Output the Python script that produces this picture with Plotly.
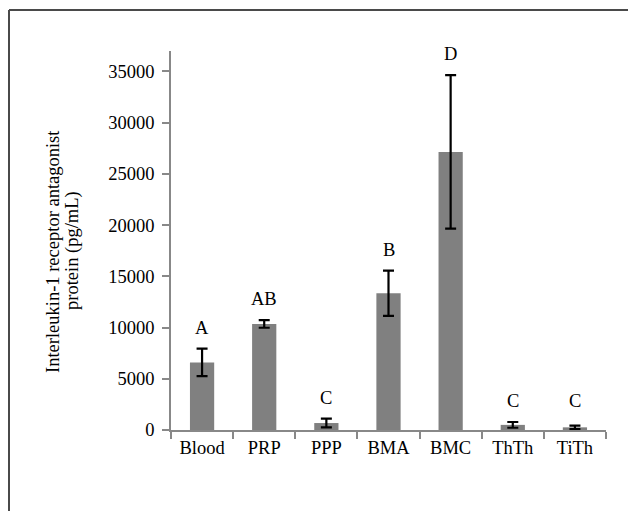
import plotly.graph_objects as go

categories = ["Blood", "PRP", "PPP", "BMA", "BMC", "ThTh", "TiTh"]
means = [6600, 10350, 680, 13350, 27150, 500, 260]
errors = [1350, 370, 430, 2200, 7500, 280, 170]
letters = ["A", "AB", "C", "B", "D", "C", "C"]
y_ticks = [0, 5000, 10000, 15000, 20000, 25000, 30000, 35000]

OFF = 8  # page body margin
W, H = 636 - OFF, 511 - OFF
L, R, T, B = 171 - OFF, 30, 51 - OFF, 81
pw, ph = W - L - R, H - T - B

def px(x):
    return (x - OFF - L) / pw

def py(y):
    return (H - B - (y - OFF)) / ph

font = dict(family="Liberation Serif, Times New Roman, serif", size=18.5, color="#000")

fig = go.Figure()
fig.add_trace(go.Bar(
    x=categories, y=means, width=0.39,
    marker=dict(color="#808080", line=dict(width=0)),
    error_y=dict(type="data", array=errors, visible=True, color="#000", thickness=2.2, width=5.5),
))

letter_y = [max(m + e, 750) for m, e in zip(means, errors)]
for c, ly, t in zip(categories, letter_y, letters):
    fig.add_annotation(x=c, y=ly, text=t, showarrow=False, yanchor="middle", yshift=21, font=font)

fig.add_annotation(
    xref="paper", yref="paper", x=px(53), y=py(251),
    text="Interleukin-1 receptor antagonist",
    textangle=-90, showarrow=False, xanchor="center", yanchor="middle", font=font,
)
fig.add_annotation(
    xref="paper", yref="paper", x=px(72), y=py(251),
    text="protein (pg/mL)",
    textangle=-90, showarrow=False, xanchor="center", yanchor="middle", font=font,
)

# frame lines (top and left)
fig.add_shape(type="line", xref="paper", yref="paper", x0=px(9), x1=px(640), y0=py(10), y1=py(10),
              line=dict(color="#4a4a4a", width=2))
fig.add_shape(type="line", xref="paper", yref="paper", x0=px(9), x1=px(9), y0=py(10), y1=py(515),
              line=dict(color="#4a4a4a", width=2))

fig.update_layout(
    width=W, height=H,
    margin=dict(l=L, r=R, t=T, b=B, pad=0),
    paper_bgcolor="white", plot_bgcolor="white",
    showlegend=False, font=font, bargap=0.6,
)
fig.update_xaxes(
    showline=True, linecolor="#888", linewidth=1.5,
    ticks="outside", tickson="boundaries", ticklen=7, tickcolor="#888", tickwidth=1.5,
    showgrid=False, tickfont=font,
)
fig.update_yaxes(
    range=[0, 37000], tickvals=y_ticks, ticktext=[str(v) for v in y_ticks],
    showline=True, linecolor="#888", linewidth=1.5,
    ticks="outside", ticklen=7, tickcolor="#888", tickwidth=1.5,
    ticklabelstandoff=4,
    showgrid=False, zeroline=False, tickfont=font,
)

fig.write_html("out.html")
